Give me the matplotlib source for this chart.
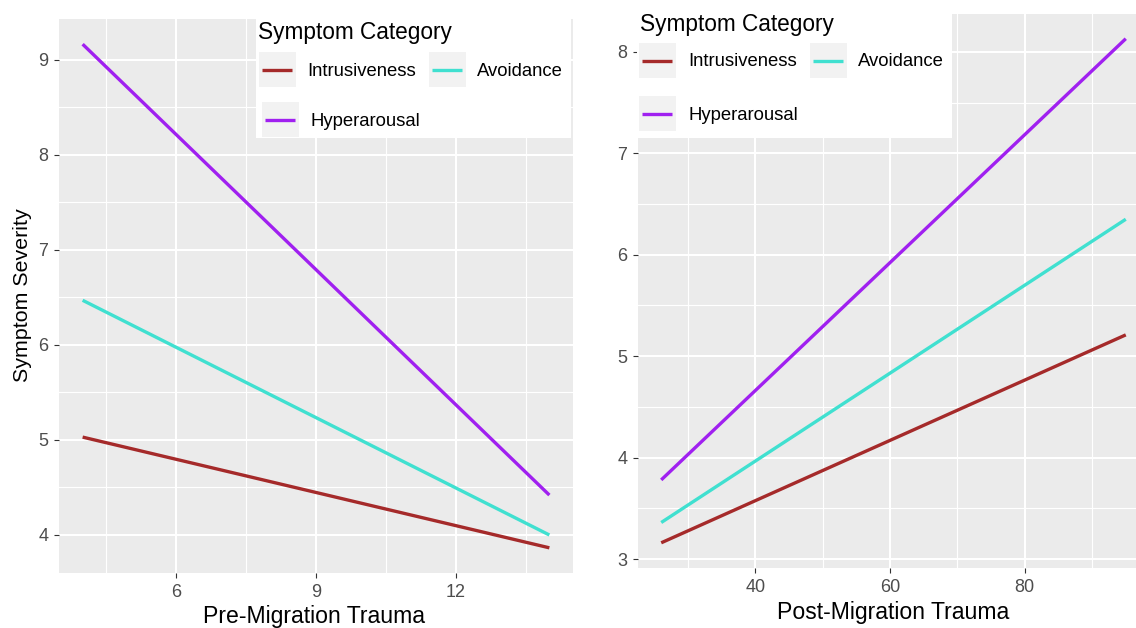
import matplotlib
matplotlib.use("Agg")
import matplotlib.pyplot as plt
from matplotlib.patches import Rectangle
from matplotlib.lines import Line2D
from matplotlib.ticker import FixedLocator

# ---------------- data ----------------
categories = ["Intrusiveness", "Avoidance", "Hyperarousal"]
colors = ["#A52A2A", "#40E0D0", "#A020F0"]

pre_x = [4, 14]
pre_intrusiveness = [5.03, 3.865]
pre_avoidance = [6.47, 4.00]
pre_hyperarousal = [9.165, 4.42]

post_x = [26, 95]
post_intrusiveness = [3.16, 5.21]
post_avoidance = [3.36, 6.35]
post_hyperarousal = [3.78, 8.13]

pre_xticks = [6, 9, 12]
pre_yticks = [4, 5, 6, 7, 8, 9]
post_xticks = [40, 60, 80]
post_yticks = [3, 4, 5, 6, 7, 8]

legend_title = "Symptom Category"

# ---------------- figure ----------------
W, H = 1136, 628
plt.rcParams["font.family"] = ["Liberation Sans", "DejaVu Sans"]
fig = plt.figure(figsize=(W / 100, H / 100), dpi=100)
fig.patch.set_facecolor("white")


def ax_rect(x0, y0, x1, y1):
    return [x0 / W, 1 - y1 / H, (x1 - x0) / W, (y1 - y0) / H]


def style_axes(ax, xmajor, xminor, ymajor, yminor):
    ax.set_facecolor("#EBEBEB")
    for s in ax.spines.values():
        s.set_visible(False)
    ax.xaxis.set_major_locator(FixedLocator(xmajor))
    ax.xaxis.set_minor_locator(FixedLocator(xminor))
    ax.yaxis.set_major_locator(FixedLocator(ymajor))
    ax.yaxis.set_minor_locator(FixedLocator(yminor))
    ax.grid(which="major", color="white", linewidth=1.5)
    ax.grid(which="minor", color="white", linewidth=0.8)
    ax.set_axisbelow(True)
    ax.tick_params(which="major", length=3.8, width=0.8, color="#333333",
                   labelsize=13, labelcolor="#4D4D4D", pad=4)
    ax.tick_params(which="minor", length=0)


def expand(lo, hi, f=0.05):
    d = (hi - lo) * f
    return lo - d, hi + d


# Left panel
axL = fig.add_axes(ax_rect(59.3, 19, 572.7, 573))
style_axes(axL, pre_xticks, [4.5, 7.5, 10.5, 13.5], pre_yticks,
           [3.5, 4.5, 5.5, 6.5, 7.5, 8.5, 9.5])
for vals, c in zip([pre_intrusiveness, pre_avoidance, pre_hyperarousal], colors):
    axL.plot(pre_x, vals, color=c, linewidth=2.4, solid_capstyle="butt")
axL.set_xlim(*expand(min(pre_x), max(pre_x)))
allL = pre_intrusiveness + pre_avoidance + pre_hyperarousal
axL.set_ylim(*expand(min(allL), max(allL)))

# Right panel (extends past the right edge of the figure, as in the reference)
axR = fig.add_axes(ax_rect(638, 13.5, 1149, 568))
style_axes(axR, post_xticks, [30, 50, 70, 90], post_yticks,
           [3.5, 4.5, 5.5, 6.5, 7.5])
for vals, c in zip([post_intrusiveness, post_avoidance, post_hyperarousal], colors):
    axR.plot(post_x, vals, color=c, linewidth=2.4, solid_capstyle="butt")
axR.set_xlim(*expand(min(post_x), max(post_x)))
allR = post_intrusiveness + post_avoidance + post_hyperarousal
axR.set_ylim(*expand(min(allR), max(allR)))

# Axis titles
fig.text(314 / W, 1 - 617 / H, "Pre-Migration Trauma", ha="center", va="center",
         fontsize=16.6, color="black")
fig.text(893 / W, 1 - 612 / H, "Post-Migration Trauma", ha="center", va="center",
         fontsize=16.6, color="black")
fig.text(23 / W, 1 - 295 / H, "Symptom Severity", ha="center", va="center",
         rotation=90, fontsize=15.4, color="black")


# ---------------- legends (drawn in pixel space) ----------------
def rect_px(x0, y0, x1, y1, fc, z):
    fig.add_artist(Rectangle((x0 / W, 1 - y1 / H), (x1 - x0) / W, (y1 - y0) / H,
                             transform=fig.transFigure, facecolor=fc,
                             edgecolor="none", zorder=z))


def line_px(x0, x1, y, c):
    fig.add_artist(Line2D([x0 / W, x1 / W], [1 - y / H, 1 - y / H],
                          transform=fig.transFigure, color=c, linewidth=2.4,
                          solid_capstyle="butt", zorder=6))


def text_px(x, y, s, size):
    fig.text(x / W, 1 - y / H, s, ha="left", va="center", fontsize=size,
             color="black", zorder=7)


def draw_legend(box, title_xy, keys):
    rect_px(*box, "white", 4)
    text_px(title_xy[0], title_xy[1], legend_title, 16.3)
    for (kx0, ky0, kx1, ky1, lx, ly), name, c in zip(keys, categories, colors):
        rect_px(kx0, ky0, kx1, ky1, "#F2F2F2", 5)
        line_px(kx0 + 3, kx1 - 4, (ky0 + ky1) / 2, c)
        text_px(lx, ly, name, 13.3)


draw_legend((256, 10, 571, 138), (258, 33),
            [(259, 52, 296, 87, 307, 71),
             (429, 52, 466, 87, 477, 71),
             (262, 102, 299, 137, 311, 121)])

draw_legend((637, 5, 952, 138), (640, 24),
            [(639, 43, 676, 78, 688, 62),
             (810, 43, 847, 78, 858, 62),
             (639, 96, 676, 131, 688, 115)])

fig.savefig("out.png", dpi=100)
